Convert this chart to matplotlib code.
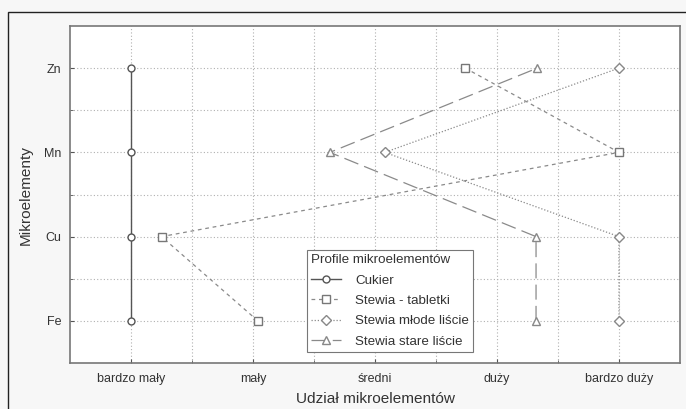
import matplotlib
matplotlib.use("Agg")
import matplotlib.pyplot as plt
from matplotlib.patches import Rectangle
from matplotlib import font_manager

names = {f.name for f in font_manager.fontManager.ttflist}
if "Liberation Sans Narrow" in names:
    FAM = ["Liberation Sans Narrow", "DejaVu Sans"]
    S = 1.0
else:
    FAM = ["Liberation Sans", "DejaVu Sans"]
    S = 0.82
plt.rcParams['font.family'] = FAM

elements = ["Fe", "Cu", "Mn", "Zn"]
levels = ["bardzo mały", "mały", "średni", "duży", "bardzo duży"]

cukier = [1.0, 1.0, 1.0, 1.0]
tabletki = [2.04, 1.25, 5.0, 3.74]
mlode = [5.0, 5.0, 3.08, 5.0]
stare = [4.32, 4.32, 2.63, 4.33]

series_names = ["Cukier", "Stewia - tabletki", "Stewia młode liście", "Stewia stare liście"]

fig = plt.figure(figsize=(6.86, 4.09), dpi=100)
fig.patch.set_facecolor("#f7f7f7")
W, H = 686, 409

# outer frame
fig.add_artist(Rectangle((8 / W, -0.1), 1.2, 1 - 12 / H + 0.1, transform=fig.transFigure,
                         fill=False, edgecolor="#222222", linewidth=1.0))

ax = fig.add_axes([70 / W, 1 - 363 / H, (680 - 70) / W, (363 - 26) / H])
ax.set_facecolor("white")

y = list(range(1, len(elements) + 1))
lc = "#8a8a8a"
ax.plot(cukier, y, color="#555555", linestyle="-", linewidth=1.0, marker="o",
        markersize=5, markerfacecolor="white", markeredgecolor="#555555", label=series_names[0], zorder=3)
ax.plot(tabletki, y, color=lc, linestyle=(0, (3, 3)), linewidth=0.9, marker="s",
        markersize=6, markerfacecolor="white", markeredgecolor="#777777", label=series_names[1], zorder=3)
ax.plot(mlode, y, color=lc, linestyle=(0, (1, 1.5)), linewidth=0.9, marker="D",
        markersize=5, markerfacecolor="white", markeredgecolor="#888888", label=series_names[2], zorder=3)
ax.plot(stare, y, color=lc, linestyle=(0, (12, 5)), linewidth=0.9, marker="^",
        markersize=6, markerfacecolor="white", markeredgecolor="#888888", label=series_names[3], zorder=3)

ax.set_xlim(0.5, len(levels) + 0.5)
ax.set_ylim(0.5, len(elements) + 0.5)
ax.set_xticks(range(1, len(levels) + 1))
ax.set_xticklabels(levels)
ax.set_yticks(y)
ax.set_yticklabels(elements)
ax.set_xticks([i + 0.5 for i in range(1, len(levels))], minor=True)
ax.set_yticks([i + 0.5 for i in range(1, len(elements))], minor=True)

ax.grid(True, which="both", color="#b0b0b0", linestyle=(0, (1, 2)), linewidth=0.8, zorder=0)
ax.tick_params(axis="both", which="both", length=3, color="#555555", labelsize=11 * S,
               labelcolor="#333333", direction="in")
ax.tick_params(axis="x", pad=7)
ax.tick_params(axis="y", pad=6)
ax.tick_params(which="minor", length=2)

for s in ax.spines.values():
    s.set_color("#777777")
    s.set_linewidth(1.2)

ax.set_xlabel("Udział mikroelementów", fontsize=13.5 * S, color="#333333", labelpad=5)
ax.set_ylabel("Mikroelementy", fontsize=13.5 * S, color="#333333", labelpad=8)

leg = ax.legend(title="Profile mikroelementów", loc="lower left",
                bbox_to_anchor=((307 - 70) / 610, (363 - 352) / 337),
                fontsize=11.8 * S, title_fontsize=11.8 * S, frameon=True, fancybox=False,
                edgecolor="#777777", framealpha=1, borderpad=0.3, labelspacing=0.6,
                handlelength=2.2, handletextpad=1.1, borderaxespad=0)
leg.get_frame().set_linewidth(0.8)
leg._legend_box.align = "left"
for t in leg.get_texts():
    t.set_color("#333333")
leg.get_title().set_color("#333333")

fig.savefig("out.png", dpi=100, facecolor=fig.get_facecolor())
